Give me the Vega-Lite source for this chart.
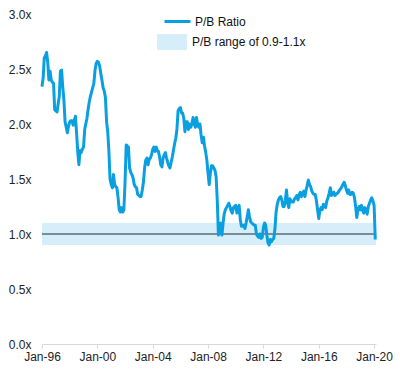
{
  "$schema": "https://vega.github.io/schema/vega-lite/v6.json",
  "width": 334,
  "height": 330,
  "autosize": {"type": "none"},
  "padding": {"left": 42, "top": 14, "right": 24, "bottom": 30},
  "background": "white",
  "config": {"view": {"stroke": null}, "font": "Liberation Sans"},
  "datasets": {
    "pb": [
      {"d": "1996-01-01", "v": 2.34}, {"d": "1996-02-01", "v": 2.42}, {"d": "1996-03-01", "v": 2.6}, {"d": "1996-04-01", "v": 2.62}, {"d": "1996-05-01", "v": 2.65}, {"d": "1996-06-01", "v": 2.56}, {"d": "1996-07-01", "v": 2.4}, {"d": "1996-08-01", "v": 2.48}, {"d": "1996-09-01", "v": 2.4}, {"d": "1996-10-01", "v": 2.38}, {"d": "1996-11-01", "v": 2.37}, {"d": "1996-12-01", "v": 2.13},
      {"d": "1997-01-01", "v": 2.12}, {"d": "1997-02-01", "v": 2.11}, {"d": "1997-03-01", "v": 2.18}, {"d": "1997-04-01", "v": 2.25}, {"d": "1997-05-01", "v": 2.48}, {"d": "1997-06-01", "v": 2.49}, {"d": "1997-07-01", "v": 2.34}, {"d": "1997-08-01", "v": 2.22}, {"d": "1997-09-01", "v": 2.02}, {"d": "1997-10-01", "v": 1.97}, {"d": "1997-11-01", "v": 1.92}, {"d": "1997-12-01", "v": 1.98},
      {"d": "1998-01-01", "v": 2.02}, {"d": "1998-02-01", "v": 2.03}, {"d": "1998-03-01", "v": 2.03}, {"d": "1998-04-01", "v": 1.99}, {"d": "1998-05-01", "v": 2.03}, {"d": "1998-06-01", "v": 2.07}, {"d": "1998-07-01", "v": 1.92}, {"d": "1998-08-01", "v": 1.75}, {"d": "1998-09-01", "v": 1.63}, {"d": "1998-10-01", "v": 1.76}, {"d": "1998-11-01", "v": 1.74}, {"d": "1998-12-01", "v": 1.77},
      {"d": "1999-01-01", "v": 1.79}, {"d": "1999-02-01", "v": 1.95}, {"d": "1999-03-01", "v": 2.0}, {"d": "1999-04-01", "v": 2.05}, {"d": "1999-05-01", "v": 2.13}, {"d": "1999-06-01", "v": 2.2}, {"d": "1999-07-01", "v": 2.25}, {"d": "1999-08-01", "v": 2.29}, {"d": "1999-09-01", "v": 2.33}, {"d": "1999-10-01", "v": 2.37}, {"d": "1999-11-01", "v": 2.49}, {"d": "1999-12-01", "v": 2.55},
      {"d": "2000-01-01", "v": 2.57}, {"d": "2000-02-01", "v": 2.56}, {"d": "2000-03-01", "v": 2.53}, {"d": "2000-04-01", "v": 2.46}, {"d": "2000-05-01", "v": 2.4}, {"d": "2000-06-01", "v": 2.33}, {"d": "2000-07-01", "v": 2.3}, {"d": "2000-08-01", "v": 2.24}, {"d": "2000-09-01", "v": 2.02}, {"d": "2000-10-01", "v": 1.93}, {"d": "2000-11-01", "v": 1.75}, {"d": "2000-12-01", "v": 1.5},
      {"d": "2001-01-01", "v": 1.45}, {"d": "2001-02-01", "v": 1.42}, {"d": "2001-03-01", "v": 1.54}, {"d": "2001-04-01", "v": 1.45}, {"d": "2001-05-01", "v": 1.43}, {"d": "2001-06-01", "v": 1.42}, {"d": "2001-07-01", "v": 1.33}, {"d": "2001-08-01", "v": 1.22}, {"d": "2001-09-01", "v": 1.2}, {"d": "2001-10-01", "v": 1.24}, {"d": "2001-11-01", "v": 1.2}, {"d": "2001-12-01", "v": 1.22},
      {"d": "2002-01-01", "v": 1.47}, {"d": "2002-02-01", "v": 1.81}, {"d": "2002-03-01", "v": 1.8}, {"d": "2002-04-01", "v": 1.79}, {"d": "2002-05-01", "v": 1.6}, {"d": "2002-06-01", "v": 1.56}, {"d": "2002-07-01", "v": 1.54}, {"d": "2002-08-01", "v": 1.51}, {"d": "2002-09-01", "v": 1.45}, {"d": "2002-10-01", "v": 1.43}, {"d": "2002-11-01", "v": 1.42}, {"d": "2002-12-01", "v": 1.36},
      {"d": "2003-01-01", "v": 1.35}, {"d": "2003-02-01", "v": 1.34}, {"d": "2003-03-01", "v": 1.34}, {"d": "2003-04-01", "v": 1.4}, {"d": "2003-05-01", "v": 1.47}, {"d": "2003-06-01", "v": 1.6}, {"d": "2003-07-01", "v": 1.67}, {"d": "2003-08-01", "v": 1.69}, {"d": "2003-09-01", "v": 1.63}, {"d": "2003-10-01", "v": 1.68}, {"d": "2003-11-01", "v": 1.69}, {"d": "2003-12-01", "v": 1.72},
      {"d": "2004-01-01", "v": 1.77}, {"d": "2004-02-01", "v": 1.79}, {"d": "2004-03-01", "v": 1.75}, {"d": "2004-04-01", "v": 1.79}, {"d": "2004-05-01", "v": 1.76}, {"d": "2004-06-01", "v": 1.75}, {"d": "2004-07-01", "v": 1.7}, {"d": "2004-08-01", "v": 1.63}, {"d": "2004-09-01", "v": 1.61}, {"d": "2004-10-01", "v": 1.69}, {"d": "2004-11-01", "v": 1.72}, {"d": "2004-12-01", "v": 1.74},
      {"d": "2005-01-01", "v": 1.69}, {"d": "2005-02-01", "v": 1.65}, {"d": "2005-03-01", "v": 1.62}, {"d": "2005-04-01", "v": 1.6}, {"d": "2005-05-01", "v": 1.65}, {"d": "2005-06-01", "v": 1.7}, {"d": "2005-07-01", "v": 1.76}, {"d": "2005-08-01", "v": 1.82}, {"d": "2005-09-01", "v": 1.87}, {"d": "2005-10-01", "v": 1.95}, {"d": "2005-11-01", "v": 2.12}, {"d": "2005-12-01", "v": 2.14},
      {"d": "2006-01-01", "v": 2.15}, {"d": "2006-02-01", "v": 2.1}, {"d": "2006-03-01", "v": 2.1}, {"d": "2006-04-01", "v": 2.05}, {"d": "2006-05-01", "v": 1.93}, {"d": "2006-06-01", "v": 2.02}, {"d": "2006-07-01", "v": 2.02}, {"d": "2006-08-01", "v": 1.95}, {"d": "2006-09-01", "v": 2.0}, {"d": "2006-10-01", "v": 1.97}, {"d": "2006-11-01", "v": 2.0}, {"d": "2006-12-01", "v": 2.06},
      {"d": "2007-01-01", "v": 2.0}, {"d": "2007-02-01", "v": 1.97}, {"d": "2007-03-01", "v": 2.06}, {"d": "2007-04-01", "v": 2.0}, {"d": "2007-05-01", "v": 1.97}, {"d": "2007-06-01", "v": 2.0}, {"d": "2007-07-01", "v": 1.9}, {"d": "2007-08-01", "v": 1.83}, {"d": "2007-09-01", "v": 1.88}, {"d": "2007-10-01", "v": 1.8}, {"d": "2007-11-01", "v": 1.74}, {"d": "2007-12-01", "v": 1.67},
      {"d": "2008-01-01", "v": 1.55}, {"d": "2008-02-01", "v": 1.45}, {"d": "2008-03-01", "v": 1.55}, {"d": "2008-04-01", "v": 1.62}, {"d": "2008-05-01", "v": 1.62}, {"d": "2008-06-01", "v": 1.6}, {"d": "2008-07-01", "v": 1.58}, {"d": "2008-08-01", "v": 1.52}, {"d": "2008-09-01", "v": 1.3}, {"d": "2008-10-01", "v": 0.99}, {"d": "2008-11-01", "v": 1.08}, {"d": "2008-12-01", "v": 1.1},
      {"d": "2009-01-01", "v": 0.99}, {"d": "2009-02-01", "v": 1.1}, {"d": "2009-03-01", "v": 1.18}, {"d": "2009-04-01", "v": 1.22}, {"d": "2009-05-01", "v": 1.24}, {"d": "2009-06-01", "v": 1.26}, {"d": "2009-07-01", "v": 1.28}, {"d": "2009-08-01", "v": 1.25}, {"d": "2009-09-01", "v": 1.21}, {"d": "2009-10-01", "v": 1.19}, {"d": "2009-11-01", "v": 1.24}, {"d": "2009-12-01", "v": 1.25},
      {"d": "2010-01-01", "v": 1.26}, {"d": "2010-02-01", "v": 1.19}, {"d": "2010-03-01", "v": 1.23}, {"d": "2010-04-01", "v": 1.26}, {"d": "2010-05-01", "v": 1.13}, {"d": "2010-06-01", "v": 1.07}, {"d": "2010-07-01", "v": 1.07}, {"d": "2010-08-01", "v": 1.08}, {"d": "2010-09-01", "v": 1.05}, {"d": "2010-10-01", "v": 1.1}, {"d": "2010-11-01", "v": 1.16}, {"d": "2010-12-01", "v": 1.22},
      {"d": "2011-01-01", "v": 1.15}, {"d": "2011-02-01", "v": 1.11}, {"d": "2011-03-01", "v": 1.1}, {"d": "2011-04-01", "v": 1.09}, {"d": "2011-05-01", "v": 1.08}, {"d": "2011-06-01", "v": 1.08}, {"d": "2011-07-01", "v": 1.0}, {"d": "2011-08-01", "v": 0.98}, {"d": "2011-09-01", "v": 0.97}, {"d": "2011-10-01", "v": 1.0}, {"d": "2011-11-01", "v": 0.96}, {"d": "2011-12-01", "v": 0.97},
      {"d": "2012-01-01", "v": 1.06}, {"d": "2012-02-01", "v": 1.1}, {"d": "2012-03-01", "v": 1.08}, {"d": "2012-04-01", "v": 0.99}, {"d": "2012-05-01", "v": 0.92}, {"d": "2012-06-01", "v": 0.9}, {"d": "2012-07-01", "v": 0.95}, {"d": "2012-08-01", "v": 0.93}, {"d": "2012-09-01", "v": 0.95}, {"d": "2012-10-01", "v": 0.96}, {"d": "2012-11-01", "v": 1.05}, {"d": "2012-12-01", "v": 1.2},
      {"d": "2013-01-01", "v": 1.27}, {"d": "2013-02-01", "v": 1.31}, {"d": "2013-03-01", "v": 1.33}, {"d": "2013-04-01", "v": 1.34}, {"d": "2013-05-01", "v": 1.31}, {"d": "2013-06-01", "v": 1.25}, {"d": "2013-07-01", "v": 1.25}, {"d": "2013-08-01", "v": 1.3}, {"d": "2013-09-01", "v": 1.4}, {"d": "2013-10-01", "v": 1.28}, {"d": "2013-11-01", "v": 1.24}, {"d": "2013-12-01", "v": 1.32},
      {"d": "2014-01-01", "v": 1.3}, {"d": "2014-02-01", "v": 1.29}, {"d": "2014-03-01", "v": 1.29}, {"d": "2014-04-01", "v": 1.32}, {"d": "2014-05-01", "v": 1.33}, {"d": "2014-06-01", "v": 1.35}, {"d": "2014-07-01", "v": 1.31}, {"d": "2014-08-01", "v": 1.36}, {"d": "2014-09-01", "v": 1.38}, {"d": "2014-10-01", "v": 1.34}, {"d": "2014-11-01", "v": 1.37}, {"d": "2014-12-01", "v": 1.39},
      {"d": "2015-01-01", "v": 1.34}, {"d": "2015-02-01", "v": 1.4}, {"d": "2015-03-01", "v": 1.44}, {"d": "2015-04-01", "v": 1.49}, {"d": "2015-05-01", "v": 1.45}, {"d": "2015-06-01", "v": 1.43}, {"d": "2015-07-01", "v": 1.39}, {"d": "2015-08-01", "v": 1.37}, {"d": "2015-09-01", "v": 1.36}, {"d": "2015-10-01", "v": 1.36}, {"d": "2015-11-01", "v": 1.3}, {"d": "2015-12-01", "v": 1.22},
      {"d": "2016-01-01", "v": 1.14}, {"d": "2016-02-01", "v": 1.22}, {"d": "2016-03-01", "v": 1.24}, {"d": "2016-04-01", "v": 1.22}, {"d": "2016-05-01", "v": 1.27}, {"d": "2016-06-01", "v": 1.26}, {"d": "2016-07-01", "v": 1.24}, {"d": "2016-08-01", "v": 1.3}, {"d": "2016-09-01", "v": 1.33}, {"d": "2016-10-01", "v": 1.37}, {"d": "2016-11-01", "v": 1.42}, {"d": "2016-12-01", "v": 1.35},
      {"d": "2017-01-01", "v": 1.37}, {"d": "2017-02-01", "v": 1.38}, {"d": "2017-03-01", "v": 1.35}, {"d": "2017-04-01", "v": 1.36}, {"d": "2017-05-01", "v": 1.37}, {"d": "2017-06-01", "v": 1.38}, {"d": "2017-07-01", "v": 1.4}, {"d": "2017-08-01", "v": 1.41}, {"d": "2017-09-01", "v": 1.43}, {"d": "2017-10-01", "v": 1.45}, {"d": "2017-11-01", "v": 1.47}, {"d": "2017-12-01", "v": 1.44},
      {"d": "2018-01-01", "v": 1.4}, {"d": "2018-02-01", "v": 1.37}, {"d": "2018-03-01", "v": 1.4}, {"d": "2018-04-01", "v": 1.36}, {"d": "2018-05-01", "v": 1.36}, {"d": "2018-06-01", "v": 1.38}, {"d": "2018-07-01", "v": 1.37}, {"d": "2018-08-01", "v": 1.33}, {"d": "2018-09-01", "v": 1.25}, {"d": "2018-10-01", "v": 1.15}, {"d": "2018-11-01", "v": 1.22}, {"d": "2018-12-01", "v": 1.25},
      {"d": "2019-01-01", "v": 1.22}, {"d": "2019-02-01", "v": 1.26}, {"d": "2019-03-01", "v": 1.22}, {"d": "2019-04-01", "v": 1.19}, {"d": "2019-05-01", "v": 1.24}, {"d": "2019-06-01", "v": 1.22}, {"d": "2019-07-01", "v": 1.18}, {"d": "2019-08-01", "v": 1.25}, {"d": "2019-09-01", "v": 1.28}, {"d": "2019-10-01", "v": 1.31}, {"d": "2019-11-01", "v": 1.33}, {"d": "2019-12-01", "v": 1.3},
      {"d": "2020-01-01", "v": 1.26}, {"d": "2020-02-01", "v": 0.95}
    ]
  },
  "layer": [
    {
      "data": {"values": [{"start": "1996-01-01", "end": "2020-02-20", "lo": 0.9, "hi": 1.1}]},
      "mark": {"type": "rect"},
      "encoding": {
        "x": {
          "field": "start", "type": "temporal",
          "scale": {"type": "utc", "nice": false, "domain": [{"year": 1996, "month": 1, "date": 1, "utc": true}, {"year": 2020, "month": 2, "date": 20, "utc": true}]},
          "axis": {
            "title": null, "grid": false,
            "values": [
              {"year": 1996, "month": 1, "date": 1, "utc": true},
              {"year": 2000, "month": 1, "date": 1, "utc": true},
              {"year": 2004, "month": 1, "date": 1, "utc": true},
              {"year": 2008, "month": 1, "date": 1, "utc": true},
              {"year": 2012, "month": 1, "date": 1, "utc": true},
              {"year": 2016, "month": 1, "date": 1, "utc": true},
              {"year": 2020, "month": 1, "date": 1, "utc": true}
            ],
            "labelExpr": "utcFormat(datum.value, '%b-%y')",
            "domainColor": "#d9d9d9", "tickColor": "#d9d9d9", "tickSize": 4,
            "labelFontSize": 12, "labelColor": "#222222", "labelPadding": 3, "labelFlush": false,
            "labelFont": "Liberation Sans"
          }
        },
        "x2": {"field": "end"},
        "y": {
          "field": "lo", "type": "quantitative",
          "scale": {"domain": [0, 3], "nice": false},
          "axis": {
            "title": null, "grid": false, "domain": false, "ticks": false,
            "values": [0, 0.5, 1, 1.5, 2, 2.5, 3],
            "labelExpr": "format(datum.value, '.1f') + 'x'",
            "labelFontSize": 12, "labelColor": "#222222", "labelPadding": 11,
            "labelFont": "Liberation Sans"
          }
        },
        "y2": {"field": "hi"},
        "fill": {
          "datum": "P/B range of 0.9-1.1x",
          "scale": {"range": ["#d5eef9"]},
          "legend": {
            "orient": "none", "legendX": 115, "legendY": 13, "title": null,
            "symbolType": "M-1,-0.533H1V0.533H-1Z", "symbolSize": 900, "symbolStrokeWidth": 0,
            "labelFontSize": 12, "labelOffset": 5, "labelColor": "#111111", "labelFont": "Liberation Sans"
          }
        }
      }
    },
    {
      "data": {"values": [{"y": 1}]},
      "mark": {"type": "rule", "color": "#7b8d94", "strokeWidth": 2},
      "encoding": {"y": {"field": "y", "type": "quantitative"}}
    },
    {
      "data": {"name": "pb"},
      "mark": {"type": "line", "strokeWidth": 3, "strokeJoin": "round"},
      "encoding": {
        "x": {
          "field": "d", "type": "temporal",
          "axis": {
            "title": null, "grid": false,
            "values": [
              {"year": 1996, "month": 1, "date": 1, "utc": true},
              {"year": 2000, "month": 1, "date": 1, "utc": true},
              {"year": 2004, "month": 1, "date": 1, "utc": true},
              {"year": 2008, "month": 1, "date": 1, "utc": true},
              {"year": 2012, "month": 1, "date": 1, "utc": true},
              {"year": 2016, "month": 1, "date": 1, "utc": true},
              {"year": 2020, "month": 1, "date": 1, "utc": true}
            ],
            "labelExpr": "utcFormat(datum.value, '%b-%y')",
            "domainColor": "#d9d9d9", "tickColor": "#d9d9d9", "tickSize": 4,
            "labelFontSize": 12, "labelColor": "#222222", "labelPadding": 3, "labelFlush": false,
            "labelFont": "Liberation Sans"
          }
        },
        "y": {"field": "v", "type": "quantitative"},
        "color": {
          "datum": "P/B Ratio",
          "scale": {"range": ["#0a9fe0"]},
          "legend": {
            "orient": "none", "legendX": 121, "legendY": -7, "title": null,
            "symbolType": "stroke", "symbolSize": 676, "symbolStrokeWidth": 3,
            "labelFontSize": 12, "labelOffset": 3, "labelColor": "#111111", "labelFont": "Liberation Sans"
          }
        }
      }
    }
  ]
}
